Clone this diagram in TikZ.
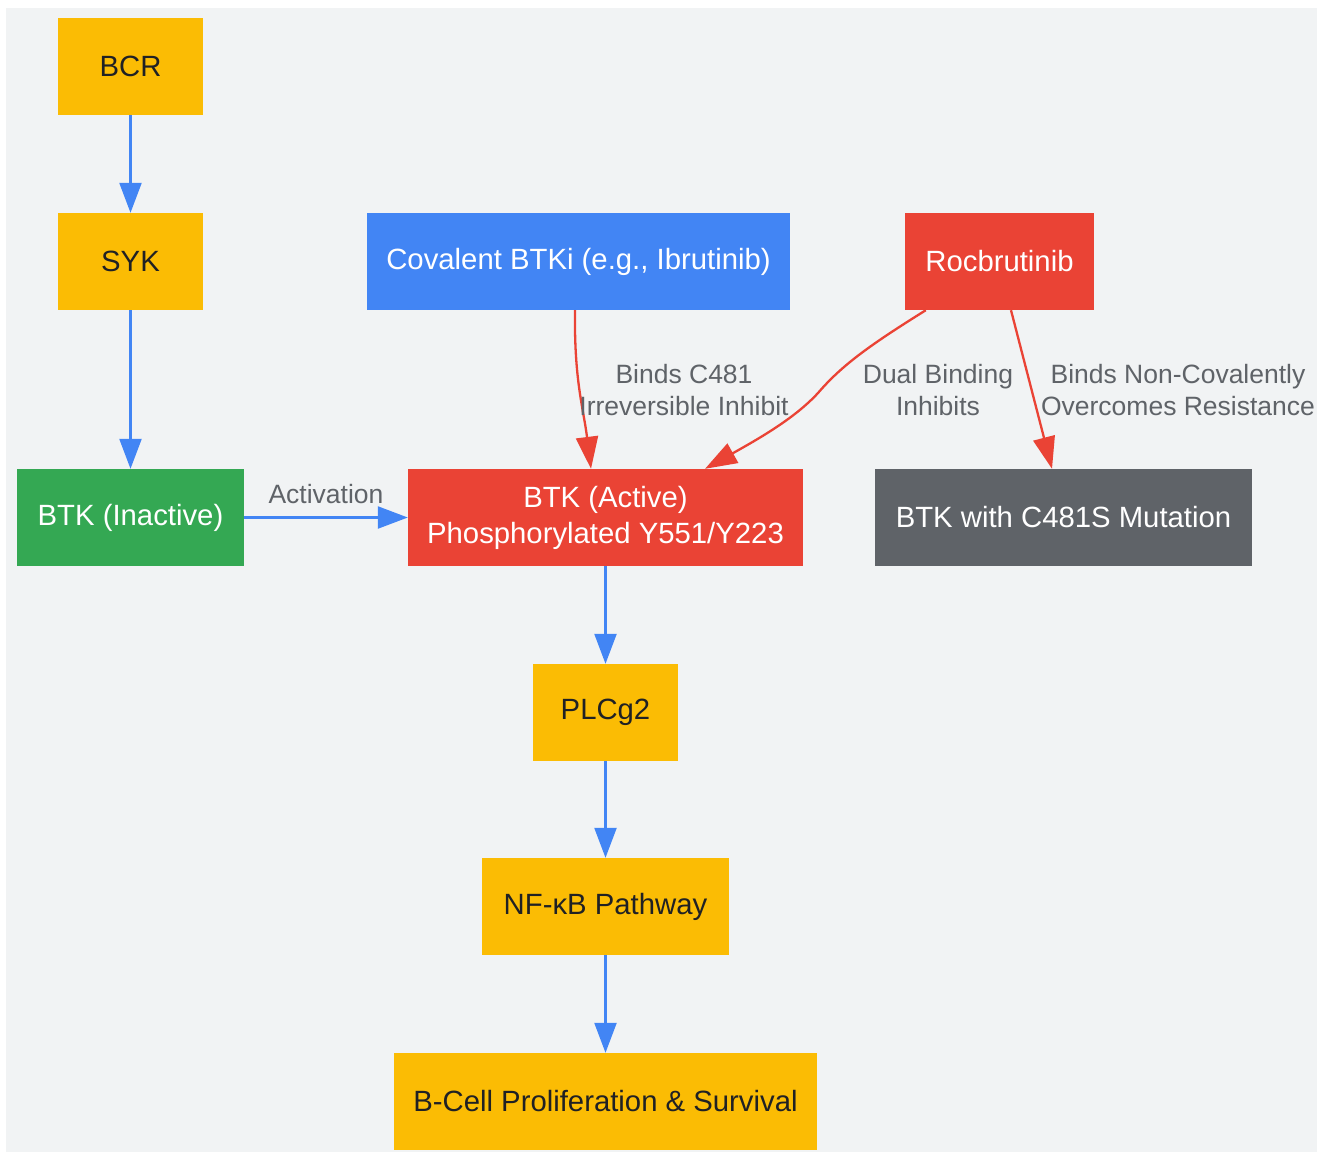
\documentclass[tikz,border=0pt]{standalone}
\usepackage{fontspec}
\setmainfont{Liberation Sans}
\usetikzlibrary{arrows.meta,calc}
\definecolor{bgc}{HTML}{F1F3F4}
\definecolor{gy}{HTML}{FBBC04}
\definecolor{gb}{HTML}{4285F4}
\definecolor{gr}{HTML}{EA4335}
\definecolor{gg}{HTML}{34A853}
\definecolor{gd}{HTML}{5F6368}
\definecolor{tx}{HTML}{202124}
\tikzset{
  box/.style={inner sep=0pt, align=center, font=\fontsize{29.3}{36}\selectfont},
  ybox/.style={box, fill=gy, text=tx},
  wbox/.style={box, text=white},
  lbl/.style={align=center, text=gd, inner sep=0pt, font=\fontsize{26.5}{32}\selectfont},
  bl/.style={draw=gb, line width=2.3pt, -{Triangle[length=30pt,width=22pt]}},
  rd/.style={draw=gr, line width=2.3pt, -{Triangle[length=32pt,width=22pt]}},
}
\begin{document}
\begin{tikzpicture}[x=1pt,y=-1pt]
\useasboundingbox (0,0) rectangle (1317,1152);
\fill[bgc] (6,8) rectangle (1317,1152);
\node[ybox, minimum width=145pt, minimum height=97pt] (bcr) at (130.5,66.5) {BCR};
\node[ybox, minimum width=145pt, minimum height=97pt] (syk) at (130.5,261.5) {SYK};
\node[wbox, fill=gb, minimum width=423pt, minimum height=97pt] (cov) at (578.5,261.5) {Covalent BTKi (e.g., Ibrutinib)};
\node[wbox, fill=gr, minimum width=189pt, minimum height=97pt] (roc) at (999.5,261.5) {Rocbrutinib};
\node[wbox, fill=gg, minimum width=227pt, minimum height=97pt] (ina) at (130.5,517.5) {BTK (Inactive)};
\node[wbox, fill=gr, minimum width=395pt, minimum height=97pt] (act) at (605.5,517.5) {BTK (Active)\\Phosphorylated Y551/Y223};
\node[wbox, fill=gd, minimum width=377pt, minimum height=97pt] (mut) at (1063.5,517.5) {BTK with C481S Mutation};
\node[ybox, minimum width=145pt, minimum height=97pt] (plc) at (605.5,712.5) {PLCg2};
\node[ybox, minimum width=247pt, minimum height=97pt] (nfk) at (605.5,906.5) {NF-κB Pathway};
\node[ybox, minimum width=423pt, minimum height=97pt] (bcell) at (605.5,1101.5) {B-Cell Proliferation \& Survival};

\draw[bl] (bcr) -- (syk);
\draw[bl] (syk) -- (ina);
\draw[bl] (ina) -- node[lbl, above=13pt] {Activation} (act);
\draw[bl] (act) -- (plc);
\draw[bl] (plc) -- (nfk);
\draw[bl] (nfk) -- (bcell);

\draw[rd] ($(cov.south)+(-3.5,0)$) .. controls ($(cov.south)+(-4.5,70)$) and ($(act.north)+(-22,-60)$) .. ($(act.north)+(-14.5,0)$);
\draw[rd] ($(roc.south west)+(21,0)$) .. controls (870,345) and (842,365) .. (818,393)
  .. controls (795,418) and (760,438) .. ($(act.north)+(99.5,0)$);
\draw[rd] ($(roc.south)+(11.5,0)$) -- ($(mut.north)+(-11.5,0)$);

\node[lbl] (l1) at (684,390) {Binds C481\\Irreversible Inhibit};
\node[lbl] (l2) at (938,390) {Dual Binding\\Inhibits};
\node[lbl] (l3) at (1178,390) {Binds Non-Covalently\\Overcomes Resistance};
\end{tikzpicture}
\end{document}
